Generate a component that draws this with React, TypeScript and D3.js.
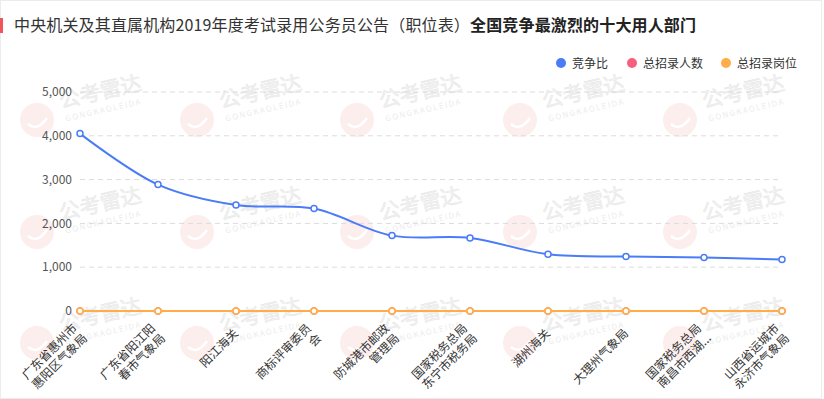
import React from "react";
import * as d3 from "d3";

// 部门（x 轴标签，已按原图折行）
const departments = [
  ["广东省惠州市", "惠阳区气象局"],
  ["广东省阳江阳", "春市气象局"],
  ["阳江海关"],
  ["商标评审委员", "会"],
  ["防城港市邮政", "管理局"],
  ["国家税务总局", "东宁市税务局"],
  ["湖州海关"],
  ["大理州气象局"],
  ["国家税务总局", "南昌市西湖..."],
  ["山西省运城市", "永济市气象局"],
];

// 竞争比
const competitionRatio = [4050, 2886, 2420, 2338, 1721, 1667, 1294, 1242, 1219, 1174];
// 总招录人数
const totalHires = [1, 1, 1, 1, 1, 1, 1, 1, 1, 1];
// 总招录岗位
const totalPositions = [1, 1, 1, 1, 1, 1, 1, 1, 1, 1];

const yTicks = [0, 1000, 2000, 3000, 4000, 5000];

const legendItems = [
  { name: "竞争比", color: "#4a7cf8" },
  { name: "总招录人数", color: "#f7607c" },
  { name: "总招录岗位", color: "#ffad48" },
];

const W = 824;
const H = 399;
const FONT = "'Noto Sans CJK SC', 'Noto Sans', sans-serif";

const App = () => {
  const idx = departments.map((_, i) => String(i));
  const x = d3.scalePoint().domain(idx).range([80, 782]);
  const y = d3.scaleLinear().domain([0, 5000]).range([311, 92]);

  const line = d3
    .line<number>()
    .x((_, i) => x(String(i)) as number)
    .y((d) => y(d))
    .curve(d3.curveCatmullRom.alpha(0.5));

  const series = [
    { values: competitionRatio, color: legendItems[0].color },
    { values: totalHires, color: legendItems[1].color },
    { values: totalPositions, color: legendItems[2].color },
  ];

  // 水印位置
  const wmCols = [37, 197, 357, 520, 680];
  const wmRows = [120, 232, 343];

  return (
    <svg
      width={W}
      height={H}
      style={{ position: "absolute", left: 0, top: 0, fontFamily: FONT }}
    >
      <rect x={0} y={0} width={W} height={H} fill="#fff" />
      <rect x={0.5} y={0.5} width={W - 3} height={H - 1} fill="none" stroke="#ececec" />

      {/* 水印 */}
      <g>
        {wmRows.map((ry) =>
          wmCols.map((rx) => (
            <g key={rx + "-" + ry} transform={`translate(${rx},${ry})`}>
              <circle r={17} fill="#fdeeee" />
              <path d="M-9,4 Q0,12 10,-2" stroke="#fff" strokeWidth={2.5} fill="none" />
              <g transform="rotate(-13)">
                <text x={26} y={-6} fontSize={21} fill="#f1f1f1" stroke="#e6e6e6" strokeWidth={0.4}>公考雷达</text>
                <text x={28} y={8} fontSize={8} fill="#ececec" letterSpacing={1.5}>GONGKAOLEIDA</text>
              </g>
            </g>
          ))
        )}
      </g>

      {/* 标题 */}
      <rect x={0} y={18} width={3} height={15} fill="#f0555d" />
      <text x={14} y={31} fontSize={16} fill="#333" letterSpacing={0.15}>
        中央机关及其直属机构2019年度考试录用公务员公告（职位表）
        <tspan fontWeight="bold" fill="#222">全国竞争最激烈的十大用人部门</tspan>
      </text>

      {/* 图例 */}
      {legendItems.map((d, i) => {
        const lx = [561, 632, 726][i];
        return (
          <g key={d.name}>
            <circle cx={lx} cy={63} r={5} fill={d.color} />
            <text x={lx + 11} y={67.5} fontSize={12} fill="#333">
              {d.name}
            </text>
          </g>
        );
      })}

      {/* 网格线与 y 轴 */}
      {yTicks.map((t) => (
        <g key={t}>
          {t > 0 && (
            <line
              x1={80}
              x2={782}
              y1={y(t)}
              y2={y(t)}
              stroke="#dcdcdc"
              strokeDasharray="5,4"
            />
          )}
          <text x={72} y={y(t)} dy="0.35em" textAnchor="end" fontSize={12} fill="#555">
            {d3.format(",")(t)}
          </text>
        </g>
      ))}

      {/* 折线 */}
      {series.map((s, si) => (
        <g key={si}>
          <path d={line(s.values) || ""} fill="none" stroke={s.color} strokeWidth={2} />
          {s.values.map((v, i) => (
            <circle
              key={i}
              cx={x(String(i))}
              cy={y(v)}
              r={3}
              fill="#fff"
              stroke={s.color}
              strokeWidth={1.5}
            />
          ))}
        </g>
      ))}

      {/* x 轴标签 */}
      {departments.map((lines, i) => (
        <g key={i} transform={`translate(${x(String(i)) as number},${331}) rotate(-45)`}>
          {lines.map((l, j) => (
            <text
              key={j}
              x={0}
              y={(j - (lines.length - 1) / 2) * 14}
              dy="0.35em"
              textAnchor="end"
              fontSize={12}
              fill="#333"
            >
              {l}
            </text>
          ))}
        </g>
      ))}
    </svg>
  );
};

export default App;
